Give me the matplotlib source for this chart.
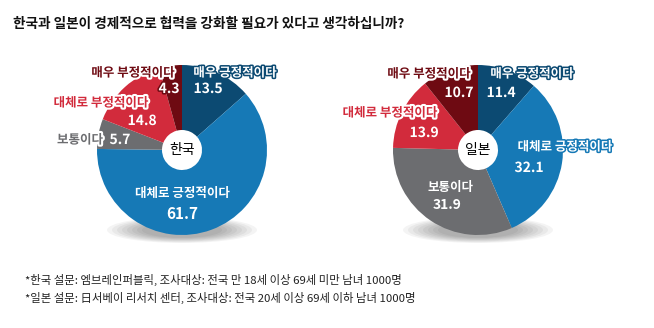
import matplotlib.pyplot as plt
import matplotlib.patheffects as pe
from matplotlib.patches import Ellipse

plt.rcParams['font.family'] = ['Noto Sans CJK KR', 'DejaVu Sans']

title = '한국과 일본이 경제적으로 협력을 강화할 필요가 있다고 생각하십니까?'
categories = ['매우 긍정적이다', '대체로 긍정적이다', '보통이다', '대체로 부정적이다', '매우 부정적이다']
korea = [13.5, 61.7, 5.7, 14.8, 4.3]
japan = [11.4, 32.1, 31.9, 13.9, 10.7]
colors = ['#0c4a72', '#1679b6', '#6c6d70', '#d22b3c', '#6e0a12']
notes = ['*한국 설문: 엠브레인퍼블릭, 조사대상: 전국 만 18세 이상 69세 미만 남녀 1000명',
         '*일본 설문: 日서베이 리서치 센터, 조사대상: 전국 20세 이상 69세 이하 남녀 1000명']

W, H = 654, 328
fig = plt.figure(figsize=(W / 100, H / 100), dpi=100)
ax = fig.add_axes([0, 0, 1, 1])


def y(p):
    # pixel row -> data y
    return H - p


def donut(cx, cy, values, name):
    # soft shadow under the ring
    for i in range(8):
        ax.add_patch(Ellipse((cx, y(cy + 80)), 150 - i * 10, 26 - i * 1.5,
                             facecolor='#000000', alpha=0.045, linewidth=0, zorder=0))
    wedges, _ = ax.pie(values, colors=colors, startangle=90, counterclock=False,
                       center=(cx, y(cy)), radius=85,
                       wedgeprops=dict(width=65, linewidth=0))
    for w in wedges:
        w.set_zorder(1)
    ax.text(cx, y(cy), name, ha='center', va='center', fontsize=10, color='black', zorder=3)


def label(x, yp, s, color, edge=None, size=9, weight='bold', lw=2.2):
    effects = [pe.withStroke(linewidth=lw, foreground=edge)] if edge else None
    ax.text(x, y(yp), s, ha='center', va='center', fontsize=size, color=color,
            fontweight=weight, path_effects=effects, zorder=4)


donut(182, 150, korea, '한국')
donut(478, 150, japan, '일본')

# 한국
label(235, 73, categories[0], 'white', colors[0])
label(208, 89, f'{korea[0]:.1f}', 'white', colors[0], size=10)
label(133, 73, categories[4], colors[4], 'white', lw=3)
label(169, 89, f'{korea[4]:.1f}', 'white', colors[4], size=10)
label(101, 103, categories[3], colors[3], 'white', lw=3)
label(142, 121, f'{korea[3]:.1f}', 'white', colors[3], size=10)
label(80, 140, categories[2], colors[2], 'white', lw=3)
label(120, 140, f'{korea[2]:.1f}', 'white', colors[2], size=10)
label(182, 193, categories[1], 'white')
label(182, 214, f'{korea[1]:.1f}', 'white', size=11)

# 일본
label(532, 74, categories[0], 'white', colors[0])
label(501, 93, f'{japan[0]:.1f}', 'white', colors[0], size=10)
label(429, 74, categories[4], colors[4], 'white', lw=3)
label(459, 93, f'{japan[4]:.1f}', 'white', colors[4], size=10)
label(390, 113, categories[3], colors[3], 'white', lw=3)
label(424, 133, f'{japan[3]:.1f}', 'white', colors[3], size=10)
label(565, 147, categories[1], 'white', colors[1])
label(529, 168, f'{japan[1]:.1f}', 'white', colors[1], size=10)
label(450, 187, categories[2], 'white')
label(447, 205, f'{japan[2]:.1f}', 'white', size=10)

ax.text(13, y(24), title, ha='left', va='center', fontsize=9.8, fontweight='heavy', color='#111111')
ax.text(25, y(280), notes[0], ha='left', va='center', fontsize=8.2, color='#222222')
ax.text(25, y(298), notes[1], ha='left', va='center', fontsize=8.2, color='#222222')

ax.set_xlim(0, W)
ax.set_ylim(0, H)
ax.set_aspect('equal')
ax.axis('off')

fig.savefig('out.png', dpi=100)
